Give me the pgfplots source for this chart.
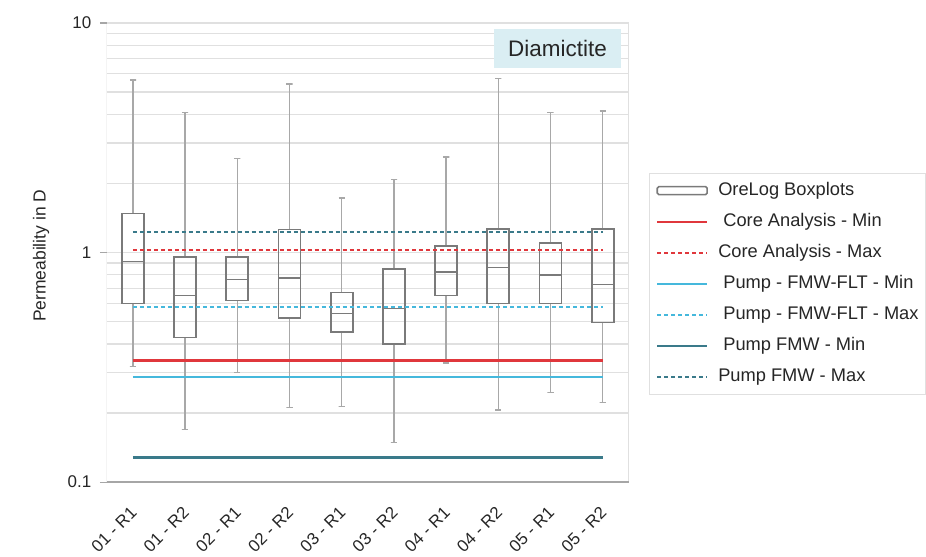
\documentclass[border=0pt]{standalone}
\usepackage{fontspec}
\setmainfont{Liberation Sans}
\usepackage{pgfplots}
\pgfplotsset{compat=1.18}

\definecolor{coreRed}{HTML}{E0373C}
\definecolor{fltBlue}{HTML}{45B8DC}
\definecolor{fmwTeal}{HTML}{3A7A8A}
\definecolor{boxGrey}{HTML}{7A7A7A}
\definecolor{whiskGrey}{HTML}{A8A8A8}
\definecolor{axisGrey}{HTML}{A6A6A6}
\definecolor{gridGrey}{HTML}{E0E0E0}
\definecolor{titleFill}{HTML}{DAEEF3}

% one OreLog box: #1 position, #2 lower whisker, #3 lower quartile,
% #4 median, #5 upper quartile, #6 upper whisker
\newcommand{\orelogbox}[6]{%
  \pgfmathsetmacro{\bxl}{#1-0.21}\pgfmathsetmacro{\bxr}{#1+0.21}%
  \pgfmathsetmacro{\cpl}{#1-0.06}\pgfmathsetmacro{\cpr}{#1+0.06}%
  \addplot[whiskGrey, line width=1.3pt, mark=none, forget plot] coordinates {(\cpl,#6) (\cpr,#6) (#1,#6) (#1,#5)};
  \addplot[whiskGrey, line width=1.3pt, mark=none, forget plot] coordinates {(#1,#3) (#1,#2) (\cpl,#2) (\cpr,#2)};
  \addplot[boxGrey, line width=1.8pt, line join=miter, mark=none, forget plot] coordinates {(\bxl,#4) (\bxl,#3) (\bxr,#3) (\bxr,#5) (\bxl,#5) (\bxl,#4) (\bxr,#4)};
}

\begin{document}
\begin{tikzpicture}
% canvas
\path (0pt,0pt) rectangle (926pt,-558pt);
\begin{axis}[
  at={(107pt,-483pt)}, anchor=south west,
  width=523pt, height=460pt, scale only axis,
  ymode=log, ymin=0.1, ymax=10,
  xmin=-0.5, xmax=9.5,
  axis line style={draw=none},
  tick pos=left, tick align=outside,
  major tick length=7pt, minor tick length=0pt,
  ytick={0.1,1,10}, yticklabels={0.1,1,10},
  minor ytick={0.2,0.3,0.4,0.5,0.6,0.7,0.8,0.9,2,3,4,5,6,7,8,9},
  ymajorgrids=true, yminorgrids=true,
  major grid style={draw=gridGrey, line width=1.2pt},
  minor grid style={draw=gridGrey, line width=1.2pt},
  y tick style={draw=axisGrey, line width=1.1pt},
  xtick={0,...,9},
  xticklabels={01 - R1,01 - R2,02 - R1,02 - R2,03 - R1,03 - R2,04 - R1,04 - R2,05 - R1,05 - R2},
  x tick style={draw=none},
  extra x ticks={-0.5,0.5,1.5,2.5,3.5,4.5,5.5,6.5,7.5,8.5,9.5},
  extra x tick labels={},
  extra x tick style={grid=none, tick style={draw=axisGrey, line width=1.1pt}},
  /pgf/number format/assume math mode=true,
  yticklabel style={font=\fontsize{17}{20}\selectfont, text=black!85, xshift=-5pt},
  xticklabel style={font=\fontsize{17}{20}\selectfont, text=black!85, rotate=45, anchor=north east, inner sep=0pt, xshift=-14pt, yshift=-9pt},
  ylabel={Permeability in D},
  ylabel style={font=\fontsize{17.5}{20}\selectfont, text=black!85, at={(axis description cs:-0.126,0.493)}, anchor=center},
  legend style={
    at={(axis description cs:1.038,0.674)}, anchor=north west,
    draw=gridGrey, line width=1pt,
    font=\fontsize{18.3}{21}\selectfont, text=black!85,
    inner xsep=7pt, inner ysep=9pt,
    row sep=14.2pt,
    column sep=10pt,
    nodes={inner sep=0pt, text height=13pt, text depth=4pt},
  },
  legend cell align=left,
  legend image code/.code={\draw[#1] (0pt,0pt) -- (50pt,0pt);},
]

% OreLog boxplots, one per run
\orelogbox{0}{0.318}{0.600}{0.914}{1.48}{5.65}
\orelogbox{1}{0.170}{0.427}{0.650}{0.955}{4.06}
\orelogbox{2}{0.300}{0.618}{0.763}{0.955}{2.56}
\orelogbox{3}{0.212}{0.520}{0.778}{1.26}{5.43}
\orelogbox{4}{0.214}{0.449}{0.543}{0.670}{1.73}
\orelogbox{5}{0.149}{0.400}{0.571}{0.850}{2.08}
\orelogbox{6}{0.330}{0.650}{0.820}{1.07}{2.61}
\orelogbox{7}{0.206}{0.600}{0.860}{1.27}{5.71}
\orelogbox{8}{0.246}{0.600}{0.800}{1.10}{4.06}
\orelogbox{9}{0.223}{0.496}{0.726}{1.27}{4.14}

\addlegendimage{legend image code/.code={\draw[boxGrey, line width=1.6pt, rounded corners=1.5pt] (0pt,-4pt) rectangle (50pt,4pt);}}
\addlegendentry{OreLog Boxplots}

% reference permeability ranges
\addplot[line width=2.2pt, color=coreRed, solid, mark=none] coordinates {(0,0.339) (9,0.339)};
\addlegendentry{\ Core Analysis - Min}
\addplot[line width=2pt, color=coreRed, dash pattern=on 4pt off 3pt, mark=none] coordinates {(0,1.03) (9,1.03)};
\addlegendentry{Core Analysis - Max}
\addplot[line width=2.2pt, color=fltBlue, solid, mark=none] coordinates {(0,0.286) (9,0.286)};
\addlegendentry{\ Pump - FMW-FLT - Min}
\addplot[line width=2pt, color=fltBlue, dash pattern=on 4pt off 3pt, mark=none] coordinates {(0,0.577) (9,0.577)};
\addlegendentry{\ Pump - FMW-FLT - Max}
\addplot[line width=2.2pt, color=fmwTeal, solid, mark=none] coordinates {(0,0.128) (9,0.128)};
\addlegendentry{\ Pump FMW - Min}
\addplot[line width=2pt, color=fmwTeal, dash pattern=on 4pt off 3pt, mark=none] coordinates {(0,1.23) (9,1.23)};
\addlegendentry{Pump FMW - Max}

% axis frame
\draw[gridGrey, line width=1.2pt] (rel axis cs:1,0) -- (rel axis cs:1,1);
\draw[axisGrey, line width=1.3pt] (rel axis cs:0,1) -- (rel axis cs:0,0) -- (rel axis cs:1,0);

% lithology tag
\node[fill=titleFill, minimum width=127pt, minimum height=39pt, inner sep=0pt,
  font=\fontsize{22.5}{26}\selectfont, text=black!85]
  at (rel axis cs:0.8633,0.9446) {Diamictite};
\end{axis}
\end{tikzpicture}
\end{document}
